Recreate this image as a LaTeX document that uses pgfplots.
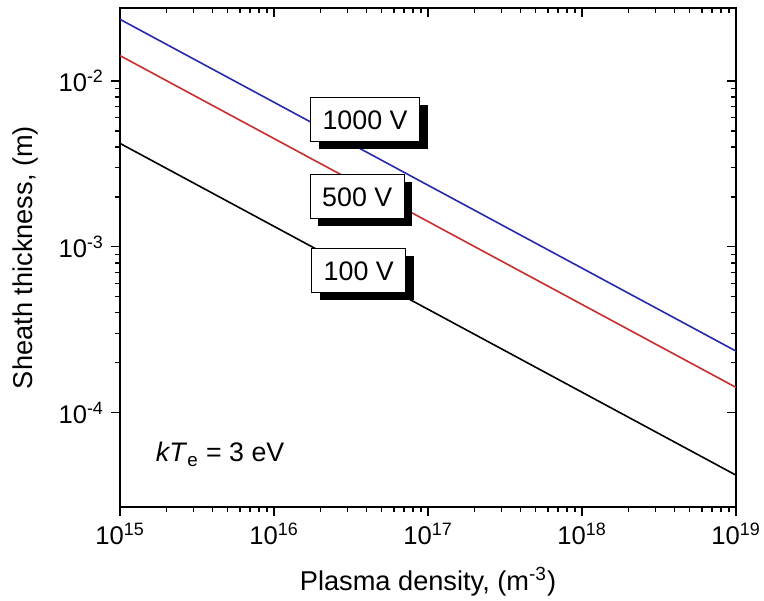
\documentclass[border=0pt]{standalone}
\usepackage{fontspec}
\setmainfont{Liberation Sans}
\usepackage{pgfplots}
\pgfplotsset{compat=1.18}
\usetikzlibrary{shadows}

\definecolor{lineblue}{RGB}{40,40,170}
\definecolor{linered}{RGB}{200,45,45}

\tikzset{labelbox/.style={draw=black, line width=0.5pt, fill=white,
    inner xsep=6pt, minimum height=22pt, font=\fontsize{13.4}{16}\selectfont,
    drop shadow={shadow xshift=4pt, shadow yshift=-3.5pt, fill=black, opacity=1}}}

\begin{document}
\begin{tikzpicture}[font=\fontsize{12.8}{15}\selectfont]

% ticks on top and right point inward
\begin{axis}[xmode=log, ymode=log,
  scale only axis, width=308pt, height=249.5pt,
  xmin=1e15, xmax=1e19, ymin=2.7e-5, ymax=2.75e-2,
  axis line style={line width=0.9pt},
  every tick/.style={black, line width=0.7pt},
  major tick length=4.5pt, minor tick length=2.6pt,
  xtick={1e15,1e16,1e17,1e18,1e19},
  ytick={1e-4,1e-3,1e-2},
  tick align=inside, xtick pos=top, ytick pos=right,
  xticklabels={}, yticklabels={}]
\end{axis}

\begin{axis}[xmode=log, ymode=log, name=main,
  scale only axis, width=308pt, height=249.5pt,
  xmin=1e15, xmax=1e19, ymin=2.7e-5, ymax=2.75e-2,
  axis line style={line width=0.9pt},
  every tick/.style={black, line width=0.7pt},
  major tick length=4.5pt, minor tick length=2.6pt,
  xtick={1e15,1e16,1e17,1e18,1e19},
  ytick={1e-4,1e-3,1e-2},
  tick align=outside, xtick pos=bottom, ytick pos=left,
  xticklabels={10\textsuperscript{15},10\textsuperscript{16},10\textsuperscript{17},10\textsuperscript{18},10\textsuperscript{19}},
  yticklabels={10\textsuperscript{-4},10\textsuperscript{-3},10\textsuperscript{-2}},
  xlabel={Plasma density, (m\textsuperscript{-3})},
  ylabel={Sheath thickness, (m)},
  label style={font=\fontsize{13.6}{16}\selectfont},
  xlabel style={at={(axis description cs:0.5,-0.15)}, anchor=center},
  ylabel style={at={(axis description cs:-0.153,0.5)}, anchor=center},
]
\addplot[lineblue, line width=0.8pt] coordinates {(1e15,2.35e-2) (1e17,2.35e-3) (1e19,2.35e-4)};
\addplot[linered, line width=0.8pt] coordinates {(1e15,1.42e-2) (1e17,1.42e-3) (1e19,1.42e-4)};
\addplot[black, line width=0.8pt] coordinates {(1e15,4.2e-3) (1e17,4.2e-4) (1e19,4.2e-5)};

\node[labelbox] at (axis cs:3.9e16,5.82e-3) {1000 V};
\node[labelbox] at (axis cs:3.47e16,2.0e-3) {500 V};
\node[labelbox] at (axis cs:3.55e16,7.16e-4) {100 V};
\node[font=\fontsize{13.4}{16}\selectfont] at (axis cs:4.47e15,5.6e-5) {\textit{kT}\textsubscript{e} = 3 eV};
\end{axis}

\pgfresetboundingbox
\path ([shift={(-60pt,-47pt)}]main.south west) rectangle ([shift={(14pt,4pt)}]main.north east);
\end{tikzpicture}
\end{document}
